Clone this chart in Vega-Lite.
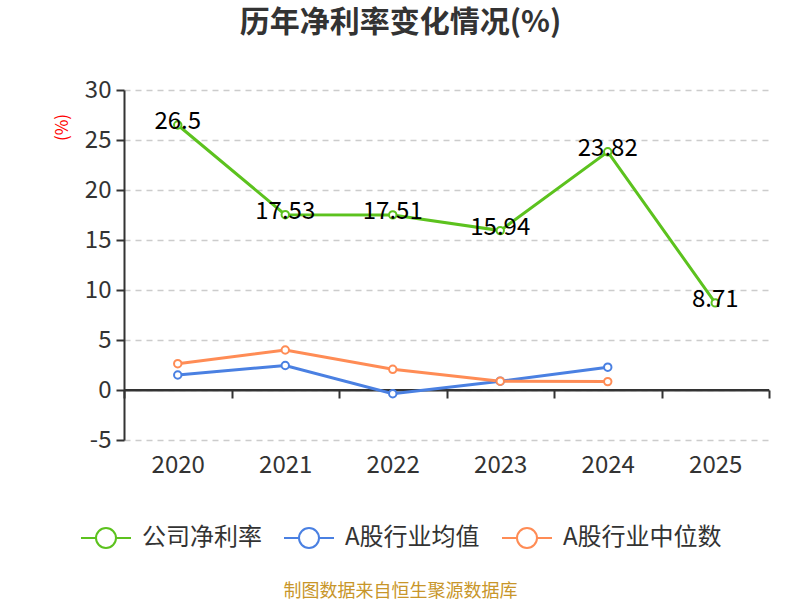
{
  "$schema": "https://vega.github.io/schema/vega-lite/v6.json",
  "width": 645,
  "height": 350,
  "autosize": "none",
  "padding": {"left": 124, "top": 90, "right": 31, "bottom": 160},
  "background": "white",
  "config": {
    "font": "Noto Sans CJK SC",
    "view": {"stroke": null}
  },
  "title": {
    "text": "历年净利率变化情况(%)",
    "fontSize": 30,
    "fontWeight": "bold",
    "color": "#333333",
    "anchor": "middle",
    "frame": "group",
    "dx": -46,
    "offset": 40
  },
  "data": {
    "values": [
      {"year": "2020", "series": "公司净利率", "value": 26.5},
      {"year": "2021", "series": "公司净利率", "value": 17.53},
      {"year": "2022", "series": "公司净利率", "value": 17.51},
      {"year": "2023", "series": "公司净利率", "value": 15.94},
      {"year": "2024", "series": "公司净利率", "value": 23.82},
      {"year": "2025", "series": "公司净利率", "value": 8.71},
      {"year": "2020", "series": "A股行业均值", "value": 1.5},
      {"year": "2021", "series": "A股行业均值", "value": 2.45},
      {"year": "2022", "series": "A股行业均值", "value": -0.37},
      {"year": "2023", "series": "A股行业均值", "value": 0.88},
      {"year": "2024", "series": "A股行业均值", "value": 2.28},
      {"year": "2020", "series": "A股行业中位数", "value": 2.63},
      {"year": "2021", "series": "A股行业中位数", "value": 4.0},
      {"year": "2022", "series": "A股行业中位数", "value": 2.07},
      {"year": "2023", "series": "A股行业中位数", "value": 0.88},
      {"year": "2024", "series": "A股行业中位数", "value": 0.84}
    ]
  },
  "encoding": {
    "x": {
      "field": "year",
      "type": "ordinal",
      "scale": {"paddingInner": 0, "paddingOuter": 0},
      "axis": {
        "title": "制图数据来自恒生聚源数据库",
        "titleColor": "#c8962a",
        "titleFontSize": 18,
        "titleFontWeight": "normal",
        "titleX": 276,
        "titleY": 210,
        "titleAlign": "center",
        "titleBaseline": "bottom",
        "offset": -50,
        "labelAngle": 0,
        "labelFontSize": 24,
        "labelColor": "#333333",
        "labelPadding": 55,
        "domainColor": "#333333",
        "domainWidth": 2,
        "tickColor": "#333333",
        "tickWidth": 2,
        "tickSize": 8,
        "tickBand": "extent",
        "grid": false
      }
    },
    "y": {
      "field": "value",
      "type": "quantitative",
      "scale": {"domain": [-5, 30], "nice": false, "zero": false},
      "axis": {
        "values": [-5, 0, 5, 10, 15, 20, 25, 30],
        "labelExpr": "replace(datum.label, '−', '-')",
        "title": "(%)",
        "titleColor": "#ff0000",
        "titleFontSize": 17,
        "titleFontWeight": "normal",
        "titleX": -62,
        "titleY": 37,
        "titleAlign": "center",
        "titleBaseline": "middle",
        "labelFontSize": 24,
        "labelColor": "#333333",
        "labelPadding": 5,
        "domainColor": "#333333",
        "domainWidth": 2,
        "tickColor": "#333333",
        "tickWidth": 2,
        "tickSize": 8,
        "grid": true,
        "gridColor": "#cccccc",
        "gridDash": [6, 5],
        "gridWidth": 1.5
      }
    }
  },
  "layer": [
    {
      "mark": {"type": "rule", "color": "#333333", "strokeWidth": 2},
      "data": {"values": [{"zero": 0}]},
      "encoding": {
        "x": null,
        "y": {"field": "zero", "type": "quantitative"}
      }
    },
    {
      "mark": {"type": "line", "strokeWidth": 3},
      "encoding": {
        "color": {
          "field": "series",
          "type": "nominal",
          "sort": ["公司净利率", "A股行业均值", "A股行业中位数"],
          "scale": {
            "domain": ["公司净利率", "A股行业均值", "A股行业中位数"],
            "range": ["#5cc21e", "#4a80e2", "#ff8c55"]
          },
          "legend": {
            "orient": "none",
            "direction": "horizontal",
            "legendX": -44,
            "legendY": 422,
            "title": null,
            "symbolType": "M-1,0L-0.4,0M0.4,0L1,0M0.4,0A0.4,0.4,0,1,1,-0.4,0A0.4,0.4,0,1,1,0.4,0Z",
            "symbolSize": 2500,
            "symbolStrokeWidth": 2,
            "symbolFillColor": "white",
            "labelFontSize": 24,
            "labelColor": "#333333",
            "labelOffset": 10,
            "columnPadding": 18
          }
        }
      }
    },
    {
      "mark": {"type": "point", "filled": true, "fill": "white", "size": 55, "strokeWidth": 2, "opacity": 1},
      "encoding": {
        "stroke": {"field": "series", "type": "nominal", "scale": {"domain": ["公司净利率", "A股行业均值", "A股行业中位数"], "range": ["#5cc21e", "#4a80e2", "#ff8c55"]}, "legend": null}
      }
    },
    {
      "transform": [{"filter": "datum.series === '公司净利率'"}],
      "mark": {"type": "text", "fontSize": 24, "color": "#000000", "baseline": "middle", "dy": -3},
      "encoding": {
        "text": {"field": "value", "type": "quantitative"}
      }
    }
  ]
}
